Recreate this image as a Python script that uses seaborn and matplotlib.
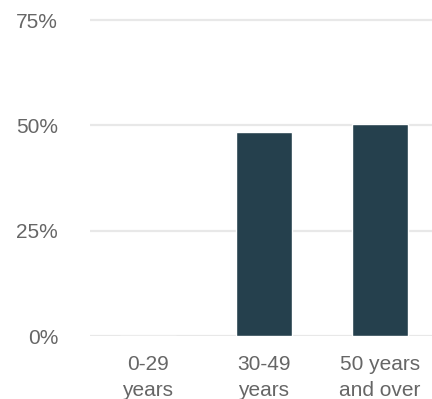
import pandas as pd
import matplotlib.pyplot as plt
import seaborn as sns

# Chart data
age_groups = ["0-29\nyears", "30-49\nyears", "50 years\nand over"]
shares = [0.0, 48.4, 50.3]
y_ticks = [0, 25, 50, 75]
y_tick_labels = ["0%", "25%", "50%", "75%"]

data = pd.DataFrame({"Age group": age_groups, "Share": shares})

sns.set_theme(style="white")
plt.rcParams["font.family"] = ["Liberation Sans", "DejaVu Sans"]

fig = plt.figure(figsize=(4.32, 3.99), dpi=100)
ax = fig.add_axes([90 / 432, 63 / 399, 348 / 432, 337 / 399])

sns.barplot(x="Age group", y="Share", data=data, color="#25404d",
            saturation=1, width=0.49, ax=ax, zorder=3)

ax.set_xlim(-0.5, 2.5)
ax.set_ylim(0, 80)
ax.set_yticks(y_ticks)
ax.set_yticklabels(y_tick_labels)
ax.yaxis.grid(True, color="#e8e8e8", linewidth=1.6, zorder=0)
ax.set_axisbelow(True)

ax.tick_params(axis="y", length=0, pad=23, labelsize=15, labelcolor="#666666")
ax.tick_params(axis="x", length=0, pad=14, labelsize=15, labelcolor="#666666")
for lbl in ax.get_xticklabels():
    lbl.set_linespacing(1.45)
ax.set_xlabel("")
ax.set_ylabel("")
sns.despine(ax=ax, left=True, bottom=True)

fig.savefig("out.png", dpi=100)
